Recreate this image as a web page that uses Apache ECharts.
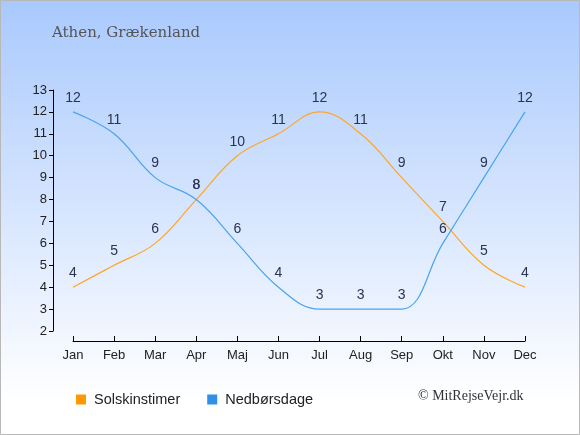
<!DOCTYPE html>
<html><head><meta charset="utf-8">
<script src="https://cdn.jsdelivr.net/npm/echarts@6/dist/echarts.min.js"></script>
<style>html,body{margin:0;padding:0;}#c{width:580px;height:435px;}</style>
</head><body><div id="c"></div>
<script>
var months = ['Jan','Feb','Mar','Apr','Maj','Jun','Jul','Aug','Sep','Okt','Nov','Dec'];
var sunHours = [4,5,6,8,10,11,12,11,9,7,5,4];
var rainDays = [12,11,9,8,6,4,3,3,3,6,9,12];
var yTicks = [2,13,1];
var chart = echarts.init(document.getElementById('c'));
var labelStyle = {show:true, position:'top', distance:7, color:'#2a3350', fontSize:14, fontFamily:'Arial, Liberation Sans, sans-serif'};
chart.setOption({
  backgroundColor: {type:'linear', x:0, y:0, x2:0, y2:1, colorStops:[{offset:0,color:'#a9c9fd'},{offset:0.92,color:'#ffffff'},{offset:1,color:'#ffffff'}]},
  animation:false,
  title:{text:'Athen, Grækenland', left:47, top:21, textStyle:{fontFamily:'DejaVu Serif, Liberation Serif, serif', fontWeight:'normal', fontSize:15, color:'#555555'}},
  graphic:[
    {type:'text', left:418, top:389, style:{text:'© MitRejseVejr.dk', font:'14px "Liberation Serif", serif', fill:'#333333'}},
    {type:'rect', shape:{x:0.5,y:0.5,width:579,height:434}, style:{fill:'none', stroke:'#b8b8b8', lineWidth:1}}
  ],
  legend:{left:71, top:387, itemWidth:10, itemHeight:10, itemGap:27, icon:'rect',
    textStyle:{fontFamily:'Arial, Liberation Sans, sans-serif', fontSize:14.5, color:'#222', padding:[0,0,0,3]},
    data:[{name:'Solskinstimer', itemStyle:{color:'#ff9900'}},{name:'Nedbørsdage', itemStyle:{color:'#3090e8'}}]},
  grid:{left:73, right:55, top:90, bottom:104},
  xAxis:{type:'category', data:months, boundaryGap:false, offset:10,
    axisLine:{lineStyle:{color:'#000', width:1}},
    axisTick:{inside:true, length:5, alignWithLabel:true, lineStyle:{color:'#000'}},
    axisLabel:{color:'#222', fontSize:13, fontFamily:'Arial, Liberation Sans, sans-serif', margin:8},
    splitLine:{show:false}},
  yAxis:{type:'value', min:yTicks[0], max:yTicks[1], interval:yTicks[2], offset:20,
    axisLine:{show:true, lineStyle:{color:'#000', width:1}},
    axisTick:{show:true, length:4, lineStyle:{color:'#000'}},
    axisLabel:{color:'#222', fontSize:13, fontFamily:'Arial, Liberation Sans, sans-serif', margin:6},
    splitLine:{show:false}},
  series:[
    {name:'Solskinstimer', type:'line', data:sunHours, smooth:0.4, showSymbol:true, symbol:'circle', symbolSize:0.1,
      lineStyle:{color:'#ffa526', width:1.2}, itemStyle:{color:'#ff9900'}, label:labelStyle},
    {name:'Nedbørsdage', type:'line', data:rainDays, smooth:0.4, showSymbol:true, symbol:'circle', symbolSize:0.1,
      lineStyle:{color:'#4aa3ef', width:1.2}, itemStyle:{color:'#3090e8'}, label:labelStyle}
  ]
});
</script></body></html>
